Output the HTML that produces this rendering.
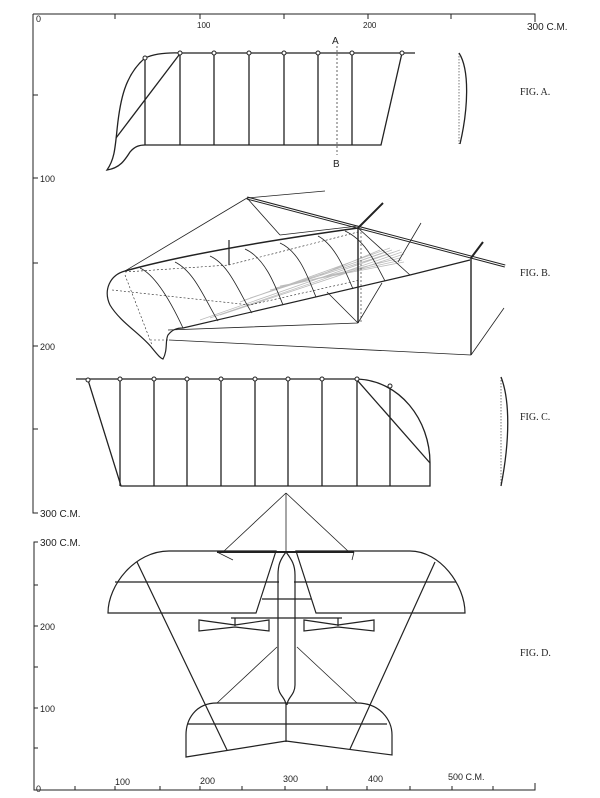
<!DOCTYPE html>
<html><head><meta charset="utf-8"><style>
html,body{margin:0;padding:0;background:#fff;}
svg{display:block}
text{font-family:"Liberation Sans",sans-serif;fill:#222}
.s{font-family:"Liberation Serif",serif;font-size:10px}
</style></head><body>
<svg width="600" height="798" viewBox="0 0 600 798" xmlns="http://www.w3.org/2000/svg" fill="none" stroke="#222" stroke-width="1">
<!-- top axis -->
<path d="M33 14 V513 H38"/>
<path d="M33 14 H535 V22"/>
<path d="M115 14V19 M200 14V19 M284 14V19 M368 14V19 M451 14V19"/>
<path d="M33 95H38 M33 178H38 M33 263H38 M33 346H38 M33 429H38"/>
<g stroke="none" font-size="9">
<text x="36" y="22">0</text><text x="197" y="28" font-size="8">100</text><text x="363" y="28" font-size="8">200</text>
<text x="527" y="30" font-size="10">300 C.M.</text>
<text x="40" y="182">100</text><text x="40" y="350">200</text><text x="40" y="517" font-size="10">300 C.M.</text>
<text x="40" y="546" font-size="10">300 C.M.</text>
<text x="40" y="630">200</text><text x="40" y="712">100</text>
<text x="36" y="792">0</text><text x="115" y="785">100</text><text x="200" y="784">200</text><text x="283" y="782">300</text><text x="368" y="782">400</text><text x="448" y="780">500 C.M.</text>
<text class="s" x="520" y="95">FIG. A.</text><text class="s" x="520" y="276">FIG. B.</text><text class="s" x="520" y="420">FIG. C.</text><text class="s" x="520" y="656">FIG. D.</text>
<text x="332" y="44" font-size="10">A</text><text x="333" y="167" font-size="10">B</text>
</g>
<!-- Fig A -->
<g stroke-width="1.3">
<path d="M145 58 Q158 52 181 53 H415"/>
<path d="M145 58 C125 75 120 100 117 130 C115 150 114 160 107 170 C120 168 125 160 130 152 C135 146 140 145 145 145 H381 L402 53"/>
<path d="M145 58V145 M180 53V145 M214 53V145 M249 53V145 M284 53V145 M318 53V145 M352 53V145"/>
<path d="M179 55 L116 138"/>
</g>
<g fill="#fff"><circle cx="145" cy="58" r="2"/><circle cx="180" cy="53" r="2"/><circle cx="214" cy="53" r="2"/><circle cx="249" cy="53" r="2"/><circle cx="284" cy="53" r="2"/><circle cx="318" cy="53" r="2"/><circle cx="352" cy="53" r="2"/><circle cx="402" cy="53" r="2"/></g>
<path d="M337 46V155" stroke-dasharray="2 2" stroke-width="0.7"/>
<path d="M459 53 C470 70 468 110 460 144" stroke-width="1.3"/>
<path d="M459 53V144" stroke-dasharray="1.5 1.5" stroke-width="0.6"/>
<!-- Fig B -->
<g stroke="#bbb" stroke-width="0.8">
<path d="M200 320 L400 250 M210 318 L402 252 M220 315 L404 254 M240 302 L390 248 M245 300 L392 250 M250 298 L394 252 M270 290 L400 258 M275 288 L402 260 M280 286 L404 262 M320 275 L380 250 M325 273 L385 252"/>
</g>
<path d="M247 198 L505 266" stroke-width="3"/>
<path d="M247 198 L505 266" stroke="#fff" stroke-width="1"/>
<path d="M247 198 L325 191 M247 198 L125 271 M247 198 L280 235 M280 235 L358 226" stroke-width="0.8"/>
<path d="M358 228 L383 203 M471 258 L483 242" stroke-width="2"/>
<path d="M358 228V323 M471 258V355" stroke-width="1.4"/>
<path d="M125 271 Q200 250 358 228" stroke-width="1.5"/>
<path d="M125 271 C110 275 103 290 110 305 C120 322 142 335 152 348 C157 354 160 358 163 359 C168 350 165 340 168 335 C172 330 176 328 183 328 L410 275 L470 260" stroke-width="1.2"/>
<path d="M358 228 L410 275" stroke-width="0.8"/>
<g stroke-width="0.8">
<path d="M140 268 C155 275 170 300 183 328"/>
<path d="M175 262 C195 272 205 300 218 321"/>
<path d="M210 256 C230 265 240 295 252 313"/>
<path d="M245 249 C265 258 275 285 283 305"/>
<path d="M280 243 C300 252 308 278 316 297"/>
<path d="M318 236 C335 245 345 270 353 289"/>
<path d="M345 231 C365 240 375 262 385 281"/>
<path d="M229 240 V265" stroke-width="1.2"/>
<path d="M358 323 L168 330 M358 323 L382 283 M358 323 L327 292 M169 340 L471 355 M471 355 L504 308 M421 223 L398 262"/>
</g>
<g stroke-dasharray="2 2" stroke-width="0.6">
<path d="M125 272 L229 265 L358 232 M112 290 L250 305 L360 280 M125 275 L152 345 M150 340 L169 340 M361 228 V323"/>
</g>
<!-- Fig C -->
<g stroke-width="1.3">
<path d="M76 379 H356 C400 380 430 420 430 463 V486 H121 L88 380"/>
<path d="M120 379V486 M154 379V486 M187 379V486 M221 379V486 M255 379V486 M288 379V486 M322 379V486 M357 379V486 M390 386V486 M357 380 L430 463"/>
</g>
<g fill="#fff"><circle cx="88" cy="380" r="2"/><circle cx="120" cy="379" r="2"/><circle cx="154" cy="379" r="2"/><circle cx="187" cy="379" r="2"/><circle cx="221" cy="379" r="2"/><circle cx="255" cy="379" r="2"/><circle cx="288" cy="379" r="2"/><circle cx="322" cy="379" r="2"/><circle cx="357" cy="379" r="2"/><circle cx="390" cy="386" r="2"/></g>
<path d="M501 377 C510 400 510 440 501 486" stroke-width="1.3"/>
<path d="M501 377V486" stroke-dasharray="1.5 1.5" stroke-width="0.6"/>
<!-- lower axis -->
<path d="M38 542 H34 V790 H535 V783"/>
<path d="M34 585H38 M34 626H38 M34 667H38 M34 708H38 M34 748H38"/>
<path d="M75 790V786 M115 790V786 M160 790V786 M200 790V786 M242 790V786 M285 790V786 M327 790V786 M367 790V786 M410 790V786 M452 790V786 M493 790V786"/>
<!-- Fig D -->
<g stroke-width="1.2">
<path d="M286 493 V552 M286 493 L223 552 M286 493 L349 552" stroke-width="0.8"/>
<path d="M217 552 H354" stroke-width="2"/>
<path d="M169 551 H276 L256 613 H108 C108 585 135 551 169 551 Z"/>
<path d="M296 551 H410 C440 551 465 585 465 613 H316 Z"/>
<path d="M115 582 H279 M294 582 H456 M262 599 H311 M231 618 H342"/>
<path d="M286 552 C280 560 278 565 278 575 V685 C278 695 286 698 286 705 V742 M286 552 C292 560 295 565 295 575 V685 C295 695 287 698 287 705"/>
<path d="M199 620 L235 625 L269 620 V631 L235 627 L199 631 Z M304 620 L338 625 L374 620 V631 L338 627 L304 631 Z"/>
<path d="M235 618V626 M338 618V626"/>
<path d="M137 562 L227 750 M435 562 L350 749"/>
<path d="M217 703 H357 C380 703 392 720 392 735 V755 L286 741 L186 757 V735 C186 720 195 703 217 703 Z"/>
<path d="M188 724 H387"/>
<path d="M277 647 L217 703 M297 647 L357 703" stroke-width="0.8"/>
<path d="M217 552 L233 560 M354 552 L352 560" stroke-width="0.8"/>
</g>
</svg>
</body></html>
